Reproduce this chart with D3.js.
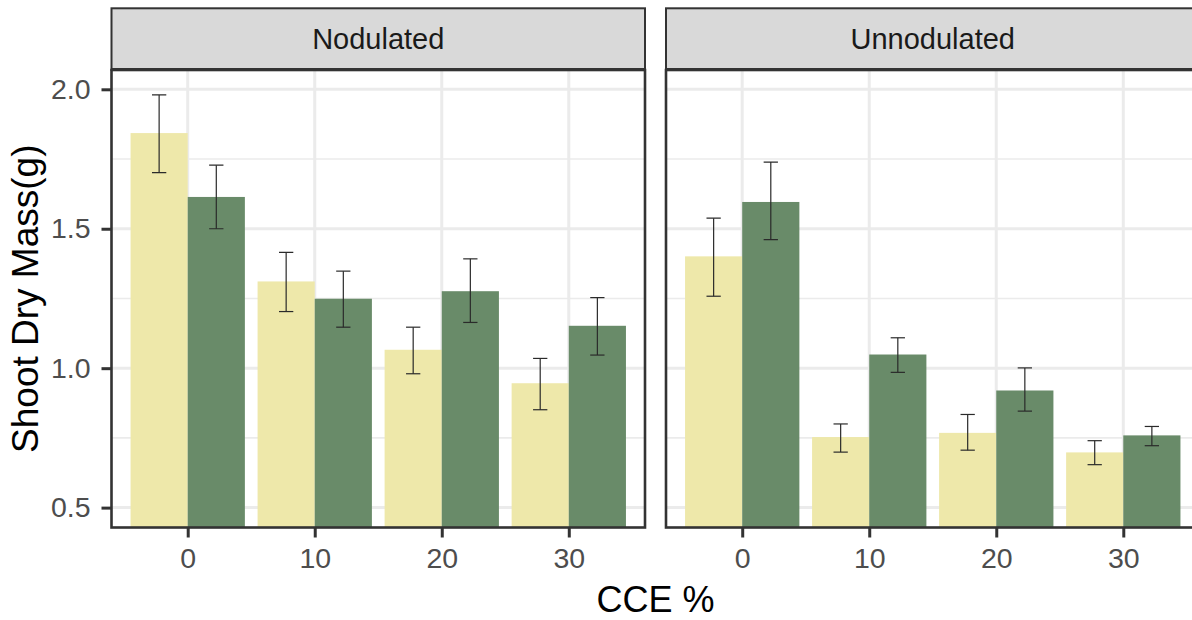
<!DOCTYPE html>
<html>
<head>
<meta charset="utf-8">
<script src="https://cdn.jsdelivr.net/npm/d3@7"></script>
<style>
  html, body { margin: 0; padding: 0; background: #ffffff; }
  svg { display: block; font-family: "Liberation Sans", Arial, Helvetica, sans-serif; }
</style>
</head>
<body>
<script>
// ---------------- data ----------------
const categories = ["0", "10", "20", "30"];
const panels = ["Nodulated", "Unnodulated"];
const seriesNames = ["A", "B"];
const yTickValues = [0.5, 1.0, 1.5, 2.0];

// Nodulated panel
const nodulatedA     = [1.843, 1.311, 1.066, 0.946];
const nodulatedA_lo  = [1.701, 1.203, 0.980, 0.851];
const nodulatedA_hi  = [1.980, 1.415, 1.147, 1.035];
const nodulatedB     = [1.614, 1.249, 1.276, 1.152];
const nodulatedB_lo  = [1.500, 1.147, 1.164, 1.047];
const nodulatedB_hi  = [1.728, 1.348, 1.392, 1.253];

// Unnodulated panel
const unnodulatedA    = [1.401, 0.753, 0.768, 0.698];
const unnodulatedA_lo = [1.258, 0.699, 0.706, 0.654];
const unnodulatedA_hi = [1.538, 0.800, 0.834, 0.740];
const unnodulatedB    = [1.596, 1.049, 0.920, 0.759];
const unnodulatedB_lo = [1.461, 0.985, 0.846, 0.722];
const unnodulatedB_hi = [1.739, 1.109, 1.001, 0.791];

const xTitle = "CCE %";
const yTitle = "Shoot Dry Mass(g)";

// ---------------- build table ----------------
const panelData = [
  { name: panels[0], series: [
      { key: seriesNames[0], mean: nodulatedA, lo: nodulatedA_lo, hi: nodulatedA_hi },
      { key: seriesNames[1], mean: nodulatedB, lo: nodulatedB_lo, hi: nodulatedB_hi } ] },
  { name: panels[1], series: [
      { key: seriesNames[0], mean: unnodulatedA, lo: unnodulatedA_lo, hi: unnodulatedA_hi },
      { key: seriesNames[1], mean: unnodulatedB, lo: unnodulatedB_lo, hi: unnodulatedB_hi } ] }
];

// ---------------- layout ----------------
const W = 1192, H = 620;
const panelTop = 70, panelBottom = 527.5;
const stripTop = 8.3;
const panelLeft = [111.5, 666];
const panelWidth = 533.5;
const colors = { A: "#EEE8AA", B: "#698B69" };

const svg = d3.select("body").append("svg").attr("width", W).attr("height", H);

const y = d3.scaleLinear().domain([0.4287, 2.0692]).range([panelBottom, panelTop]);
const minorTicks = d3.pairs(yTickValues).map(([a, b]) => (a + b) / 2);

svg.append("defs").selectAll("clipPath").data(panelData).join("clipPath")
  .attr("id", (d, i) => "clip" + i)
  .append("rect")
  .attr("x", (d, i) => panelLeft[i]).attr("y", panelTop)
  .attr("width", panelWidth).attr("height", panelBottom - panelTop);

panelData.forEach((pd, pi) => {
  const x0 = panelLeft[pi], x1 = x0 + panelWidth;
  const x = d3.scalePoint().domain(categories).range([x0, x1]).padding(0.6);
  const step = x.step();
  const barW = step * 0.45;

  const g = svg.append("g");
  const inner = g.append("g").attr("clip-path", `url(#clip${pi})`);

  // background
  inner.append("rect").attr("x", x0).attr("y", panelTop)
    .attr("width", panelWidth).attr("height", panelBottom - panelTop).attr("fill", "#ffffff");

  // minor grid
  inner.selectAll(".minor").data(minorTicks).join("line")
    .attr("x1", x0).attr("x2", x1)
    .attr("y1", d => y(d)).attr("y2", d => y(d))
    .attr("stroke", "#EBEBEB").attr("stroke-width", 1.6);
  // major grid
  inner.selectAll(".majorY").data(yTickValues).join("line")
    .attr("x1", x0).attr("x2", x1)
    .attr("y1", d => y(d)).attr("y2", d => y(d))
    .attr("stroke", "#EBEBEB").attr("stroke-width", 3);
  inner.selectAll(".majorX").data(categories).join("line")
    .attr("x1", d => x(d)).attr("x2", d => x(d))
    .attr("y1", panelTop).attr("y2", panelBottom)
    .attr("stroke", "#EBEBEB").attr("stroke-width", 3);

  // bars
  pd.series.forEach((s, si) => {
    const off = si === 0 ? -barW : 0;
    inner.selectAll(".bar" + si).data(categories).join("rect")
      .attr("x", d => x(d) + off)
      .attr("width", barW)
      .attr("y", (d, i) => y(s.mean[i]))
      .attr("height", (d, i) => y(y.domain()[0]) - y(s.mean[i]) + 2)
      .attr("fill", colors[s.key]);
  });

  // error bars
  pd.series.forEach((s, si) => {
    const cOff = si === 0 ? -barW / 2 : barW / 2;
    const capW = barW * 0.25;
    const eg = inner.append("g").attr("stroke", "#2a2a2a").attr("stroke-width", 1.2).attr("fill", "none");
    categories.forEach((c, i) => {
      const cx = x(c) + cOff;
      eg.append("line").attr("x1", cx).attr("x2", cx).attr("y1", y(s.lo[i])).attr("y2", y(s.hi[i]));
      eg.append("line").attr("x1", cx - capW / 2).attr("x2", cx + capW / 2).attr("y1", y(s.hi[i])).attr("y2", y(s.hi[i]));
      eg.append("line").attr("x1", cx - capW / 2).attr("x2", cx + capW / 2).attr("y1", y(s.lo[i])).attr("y2", y(s.lo[i]));
    });
  });

  // panel border
  g.append("rect").attr("x", x0).attr("y", panelTop)
    .attr("width", panelWidth).attr("height", panelBottom - panelTop)
    .attr("fill", "none").attr("stroke", "#333333").attr("stroke-width", 2.6);

  // strip
  g.append("rect").attr("x", x0).attr("y", stripTop)
    .attr("width", panelWidth).attr("height", panelTop - stripTop)
    .attr("fill", "#D9D9D9").attr("stroke", "#333333").attr("stroke-width", 2);
  g.append("line").attr("x1", x0).attr("x2", x1).attr("y1", panelTop - 0.5).attr("y2", panelTop - 0.5)
    .attr("stroke", "#333333").attr("stroke-width", 3);
  g.append("text").attr("x", (x0 + x1) / 2).attr("y", (stripTop + panelTop) / 2)
    .attr("text-anchor", "middle").attr("dominant-baseline", "central")
    .attr("font-size", 29).attr("fill", "#1A1A1A").text(pd.name);

  // x axis
  const xa = g.append("g").attr("transform", `translate(0,${panelBottom})`)
    .call(d3.axisBottom(x).tickSize(10).tickPadding(10));
  xa.select(".domain").remove();
  xa.selectAll(".tick line").attr("stroke", "#333333").attr("stroke-width", 3);
  xa.selectAll(".tick text").attr("font-size", 28.5).attr("fill", "#4D4D4D")
    .attr("font-family", "'Liberation Sans', Arial, sans-serif");

  // y axis on first panel
  if (pi === 0) {
    const ya = g.append("g").attr("transform", `translate(${x0},0)`)
      .call(d3.axisLeft(y).tickValues(yTickValues).tickFormat(d3.format(".1f")).tickSize(10).tickPadding(11));
    ya.select(".domain").remove();
    ya.selectAll(".tick line").attr("stroke", "#333333").attr("stroke-width", 3);
    ya.selectAll(".tick text").attr("font-size", 28.5).attr("fill", "#4D4D4D")
      .attr("font-family", "'Liberation Sans', Arial, sans-serif");
  }
});

// axis titles
svg.append("text").attr("x", (panelLeft[0] + panelLeft[1] + panelWidth) / 2).attr("y", 612)
  .attr("text-anchor", "middle").attr("font-size", 36).attr("fill", "#000").text(xTitle);
svg.append("text")
  .attr("transform", `translate(37.5,${(panelTop + panelBottom) / 2}) rotate(-90)`)
  .attr("text-anchor", "middle").attr("font-size", 37).attr("fill", "#000").text(yTitle);
</script>
</body>
</html>
